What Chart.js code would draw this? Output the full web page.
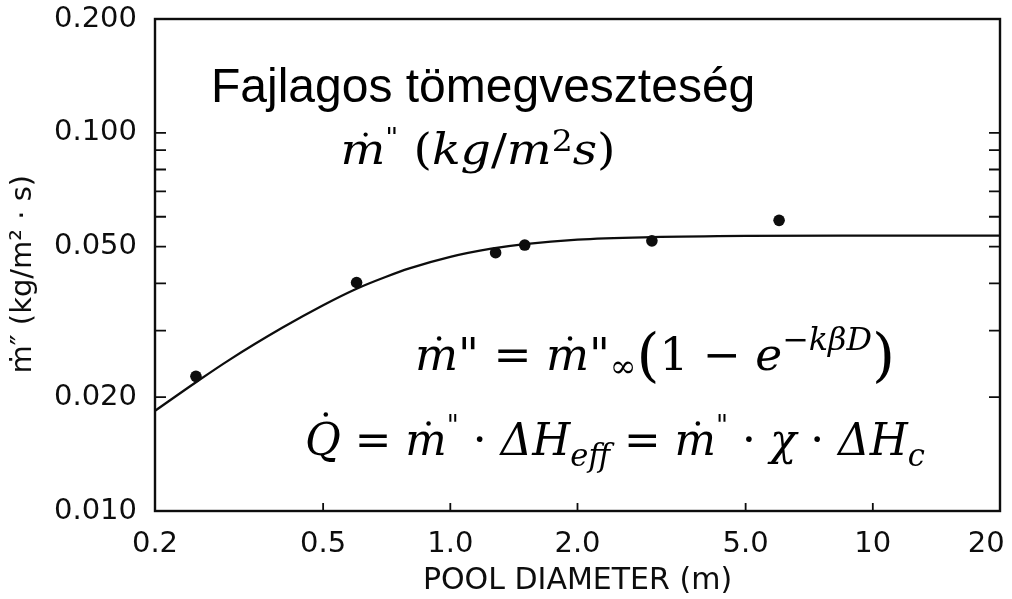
<!DOCTYPE html>
<html>
<head>
<meta charset="utf-8">
<script src="https://cdn.jsdelivr.net/npm/chart.js@4.4.1/dist/chart.umd.min.js"></script>
<style>
  html, body { margin: 0; padding: 0; background: #ffffff; }
  #wrap { width: 1012px; height: 599px; }
</style>
</head>
<body>
<div id="wrap"><canvas id="c" width="1012" height="599"></canvas></div>
<script>
// Pool diameter (m) of the measured burning-rate points
const poolDiameter = [0.25, 0.6, 1.28, 1.5, 3.0, 6.0];
// Measured mass loss rate per unit area (kg/m2 s)
const massLossRate = [0.0227, 0.0402, 0.0482, 0.0505, 0.0518, 0.0587];

// Fitted curve m'' = m''inf (1 - exp(-k beta D)), sampled along the diameter range
const curveDiameter = [0.2, 0.25, 0.3, 0.4, 0.5, 0.6, 0.7, 0.8, 1.0, 1.25, 1.5, 2.0, 3.0, 5.0, 10, 20];
const curveRate = [0.0184, 0.0219, 0.0251, 0.0305, 0.0350, 0.0387, 0.0415, 0.0438, 0.0470, 0.0494, 0.0508, 0.0522, 0.0530, 0.0534, 0.0535, 0.0535];

// Labelled axis ticks
const xTickValues = [0.2, 0.5, 1.0, 2.0, 5.0, 10, 20];
const xTickLabels = ['0.2', '0.5', '1.0', '2.0', '5.0', '10', '20   '];
const yTickValues = [0.01, 0.02, 0.05, 0.1, 0.2];
const yTickLabels = ['0.010', '0.020', '0.050', '0.100', '0.200'];

// Short inward tick marks on the frame
const xTickMarks = [0.5, 1.0, 2.0, 5.0, 10];
const yTickMarks = [0.02, 0.03, 0.04, 0.05, 0.06, 0.07, 0.08, 0.09, 0.1];

const AXIS_FONT = '"DejaVu Sans", "Liberation Sans", sans-serif';
const MATH_FONT = '"DejaVu Serif", "Liberation Serif", serif';
const INK = '#0d0d0d';

const curvePoints = curveDiameter.map((d, i) => ({ x: d, y: curveRate[i] }));
const measuredPoints = poolDiameter.map((d, i) => ({ x: d, y: massLossRate[i] }));

// Rich-text helpers for the formulas (italic variables, roman operators)
const I = (t, o = {}) => Object.assign({ t, it: true, sz: 1, dy: 0 }, o);
const R = (t, o = {}) => Object.assign({ t, it: false, sz: 1, dy: 0 }, o);

function partFont(p, size) {
  return (p.it ? 'italic ' : '') + (size * p.sz).toFixed(2) + 'px ' + MATH_FONT;
}

// Draws a formula at a given glyph size, condensed horizontally to the given width
function drawRich(ctx, parts, cx, baseline, size, targetW) {
  let w = 0;
  for (const p of parts) { ctx.font = partFont(p, size); w += ctx.measureText(p.t).width; }
  const sx = targetW / w;
  ctx.save();
  ctx.translate(cx - targetW / 2, baseline);
  ctx.scale(sx, 1);
  ctx.textBaseline = 'alphabetic';
  ctx.textAlign = 'left';
  ctx.fillStyle = '#000';
  let x = 0;
  for (const p of parts) {
    ctx.font = partFont(p, size);
    const pw = ctx.measureText(p.t).width;
    const y = p.dy * size;
    ctx.fillText(p.t, x, y);
    if (p.dot) {
      const r = size * 0.05;
      ctx.beginPath();
      ctx.ellipse(x + pw * p.dotX, y - size * p.dot, r / sx, r, 0, 0, Math.PI * 2);
      ctx.fill();
    }
    x += pw;
  }
  ctx.restore();
}

const subtitleParts = [
  I('m', { dot: 0.7, dotX: 0.56 }), R('"', { sz: 0.6, dy: -0.42 }), R(' ('), I('kg'), R('/'), I('m'),
  R('2', { sz: 0.7, dy: -0.3 }), I('s'), R(')')
];
const formulaRate = [
  I('m', { dot: 0.7, dotX: 0.56 }), R('"'), R(' = '), I('m', { dot: 0.7, dotX: 0.56 }), R('"'),
  R('∞', { sz: 0.7, dy: 0.15 }), R('(', { sz: 1.3, dy: 0.1 }), R('1 − '), I('e'),
  R('−', { sz: 0.7, dy: -0.45 }), I('kβD', { sz: 0.7, dy: -0.45 }), R(')', { sz: 1.3, dy: 0.1 })
];
const formulaHeat = [
  I('Q', { dot: 0.9, dotX: 0.58 }), R(' = '), I('m', { dot: 0.7, dotX: 0.56 }), R('"', { sz: 0.6, dy: -0.45 }),
  R(' · '), I('ΔH'), I('eff', { sz: 0.7, dy: 0.25 }), R(' = '), I('m', { dot: 0.7, dotX: 0.56 }),
  R('"', { sz: 0.6, dy: -0.45 }), R(' · '), I('χ'), R(' · '), I('ΔH'), I('c', { sz: 0.7, dy: 0.25 })
];

const framePlugin = {
  id: 'frameAndNotes',
  afterDatasetsDraw(chart) {
    const { ctx, chartArea: a, scales } = chart;
    const xs = scales.x, ys = scales.y;
    ctx.save();
    // frame
    ctx.strokeStyle = INK;
    ctx.lineWidth = 2.4;
    ctx.strokeRect(a.left, a.top, a.right - a.left, a.bottom - a.top);
    // inward ticks
    ctx.lineWidth = 1.8;
    ctx.beginPath();
    for (const v of yTickMarks) {
      const y = ys.getPixelForValue(v);
      ctx.moveTo(a.left, y); ctx.lineTo(a.left + 11, y);
      ctx.moveTo(a.right, y); ctx.lineTo(a.right - 11, y);
    }
    for (const v of xTickMarks) {
      const x = xs.getPixelForValue(v);
      ctx.moveTo(x, a.bottom); ctx.lineTo(x, a.bottom - 8);
    }
    ctx.stroke();

    // heading and formulas
    ctx.fillStyle = '#000';
    ctx.font = '48px "Liberation Sans", Arial, sans-serif';
    ctx.textAlign = 'left';
    ctx.textBaseline = 'alphabetic';
    ctx.fillText('Fajlagos tömegveszteség', 211, 102);
    drawRich(ctx, subtitleParts, 478, 164, 42, 275);
    drawRich(ctx, formulaRate, 655, 370, 45, 480);
    drawRich(ctx, formulaHeat, 615, 455, 45, 620);
    ctx.restore();
  }
};

new Chart(document.getElementById('c'), {
  type: 'scatter',
  data: {
    datasets: [
      {
        data: curvePoints,
        showLine: true,
        borderColor: INK,
        borderWidth: 2.3,
        pointRadius: 0,
        cubicInterpolationMode: 'monotone',
        fill: false
      },
      {
        data: measuredPoints,
        pointRadius: 5.8,
        pointBackgroundColor: INK,
        pointBorderColor: INK,
        pointBorderWidth: 0,
        showLine: false
      }
    ]
  },
  options: {
    responsive: false,
    animation: false,
    devicePixelRatio: 1,
    layout: { padding: { top: 19, right: 12, left: 0, bottom: 0 } },
    plugins: { legend: { display: false }, tooltip: { enabled: false } },
    scales: {
      x: {
        type: 'logarithmic',
        min: 0.2,
        max: 20,
        grid: { display: false },
        border: { display: false },
        afterBuildTicks: (s) => { s.ticks = xTickValues.map(v => ({ value: v })); },
        afterFit: (s) => { s.height = 88; s.paddingLeft = 0; s.paddingRight = 0; },
        ticks: {
          autoSkip: false,
          maxRotation: 0,
          padding: 8,
          color: INK,
          font: { family: AXIS_FONT, size: 29 },
          callback: (v) => { const i = xTickValues.indexOf(v); return i >= 0 ? xTickLabels[i] : ''; }
        },
        title: {
          display: true,
          text: 'POOL DIAMETER (m)',
          color: INK,
          font: { family: AXIS_FONT, size: 30 },
          padding: { top: 0, bottom: 0 }
        }
      },
      y: {
        type: 'logarithmic',
        min: 0.01,
        max: 0.2,
        grid: { display: false },
        border: { display: false },
        afterBuildTicks: (s) => { s.ticks = yTickValues.map(v => ({ value: v })); },
        afterFit: (s) => { s.width = 155; s.paddingTop = 0; s.paddingBottom = 0; },
        ticks: {
          autoSkip: false,
          padding: 10,
          color: INK,
          font: { family: AXIS_FONT, size: 29 },
          callback: (v) => { const i = yTickValues.indexOf(v); return i >= 0 ? yTickLabels[i] : ''; }
        },
        title: {
          display: true,
          text: 'ṁ″ (kg/m² · s)  ',
          color: INK,
          font: { family: AXIS_FONT, size: 29 },
          padding: { top: 6, bottom: 0 }
        }
      }
    }
  },
  plugins: [framePlugin]
});
</script>
</body>
</html>
